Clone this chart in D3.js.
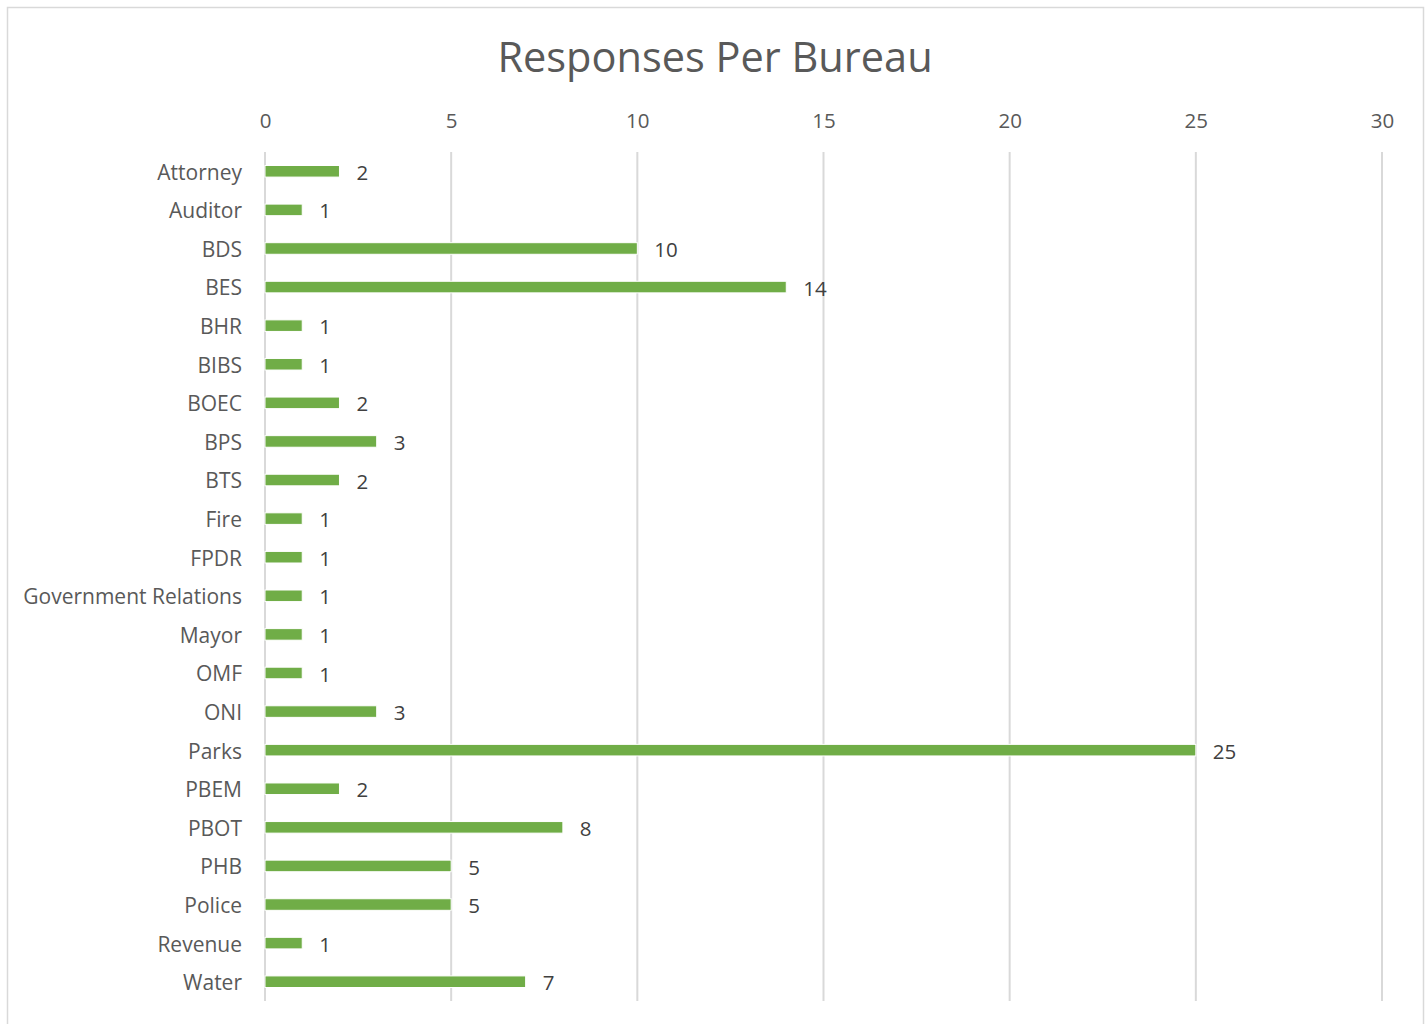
<!DOCTYPE html>
<html>
<head>
<meta charset="utf-8">
<script src="https://cdn.jsdelivr.net/npm/d3@7"></script>
<style>
  html, body { margin: 0; padding: 0; background: #fff; }
  svg { display: block; }
  text { font-family: "Open Sans", "Noto Sans", sans-serif; }
</style>
</head>
<body>
<svg id="chart" width="1428" height="1024"></svg>
<script>
const bureaus = ["Attorney", "Auditor", "BDS", "BES", "BHR", "BIBS", "BOEC", "BPS", "BTS", "Fire", "FPDR",
  "Government Relations", "Mayor", "OMF", "ONI", "Parks", "PBEM", "PBOT", "PHB", "Police", "Revenue", "Water"];
const responses = [2, 1, 10, 14, 1, 1, 2, 3, 2, 1, 1, 1, 1, 1, 3, 25, 2, 8, 5, 5, 1, 7];
const xTicks = [0, 5, 10, 15, 20, 25, 30];
const chartTitle = "Responses Per Bureau";

const svg = d3.select("#chart");
const W = 1428, H = 1024;
const margin = { left: 265, right: 46, top: 152, bottom: 23 };

// chart frame (runs past the bottom edge)
svg.append("rect")
  .attr("x", 7.5).attr("y", 7.5)
  .attr("width", 1416).attr("height", 1040)
  .attr("fill", "#fff").attr("stroke", "#d9d9d9").attr("stroke-width", 1.5);

const x = d3.scaleLinear().domain([0, 30]).range([margin.left, W - margin.right]);
const y = d3.scaleBand().domain(bureaus).range([margin.top, H - margin.bottom]).paddingInner(0.7).paddingOuter(0.35);

// vertical gridlines
svg.append("g").selectAll("line").data(xTicks).join("line")
  .attr("x1", d => x(d)).attr("x2", d => x(d))
  .attr("y1", margin.top).attr("y2", H - margin.bottom)
  .attr("stroke", "#d9d9d9").attr("stroke-width", 2);

// top value axis
const xAxis = svg.append("g")
  .attr("transform", `translate(0, ${margin.top})`)
  .call(d3.axisTop(x).tickValues(xTicks).tickSize(0).tickPadding(24));
xAxis.select(".domain").remove();
xAxis.selectAll("text").attr("font-size", 20.5).attr("fill", "#595959")
  .style("font-family", '"Open Sans", "Noto Sans", sans-serif');

// category axis
const yAxis = svg.append("g")
  .attr("transform", `translate(${margin.left}, 0)`)
  .call(d3.axisLeft(y).tickSize(0).tickPadding(23));
yAxis.select(".domain").remove();
yAxis.selectAll("text").attr("font-size", 21).attr("fill", "#595959")
  .attr("dy", "0.4em")
  .style("font-family", '"Open Sans", "Noto Sans", sans-serif');

// bars
svg.append("g").selectAll("rect").data(bureaus).join("rect")
  .attr("x", x(0))
  .attr("y", (d) => y(d))
  .attr("width", (d, i) => x(responses[i]) - x(0))
  .attr("height", y.bandwidth())
  .attr("fill", "#70ad47")
  .attr("stroke", "#fff").attr("stroke-width", 1);

// value labels
svg.append("g").selectAll("text").data(bureaus).join("text")
  .attr("x", (d, i) => x(responses[i]) + 17)
  .attr("y", d => y(d) + y.bandwidth() / 2)
  .attr("dy", "0.42em")
  .attr("font-size", 20.5)
  .attr("fill", "#404040")
  .text((d, i) => responses[i]);

// title
svg.append("text")
  .attr("x", 715).attr("y", 72)
  .attr("text-anchor", "middle")
  .attr("font-size", 41.5)
  .attr("fill", "#595959")
  .text(chartTitle);
</script>
</body>
</html>
